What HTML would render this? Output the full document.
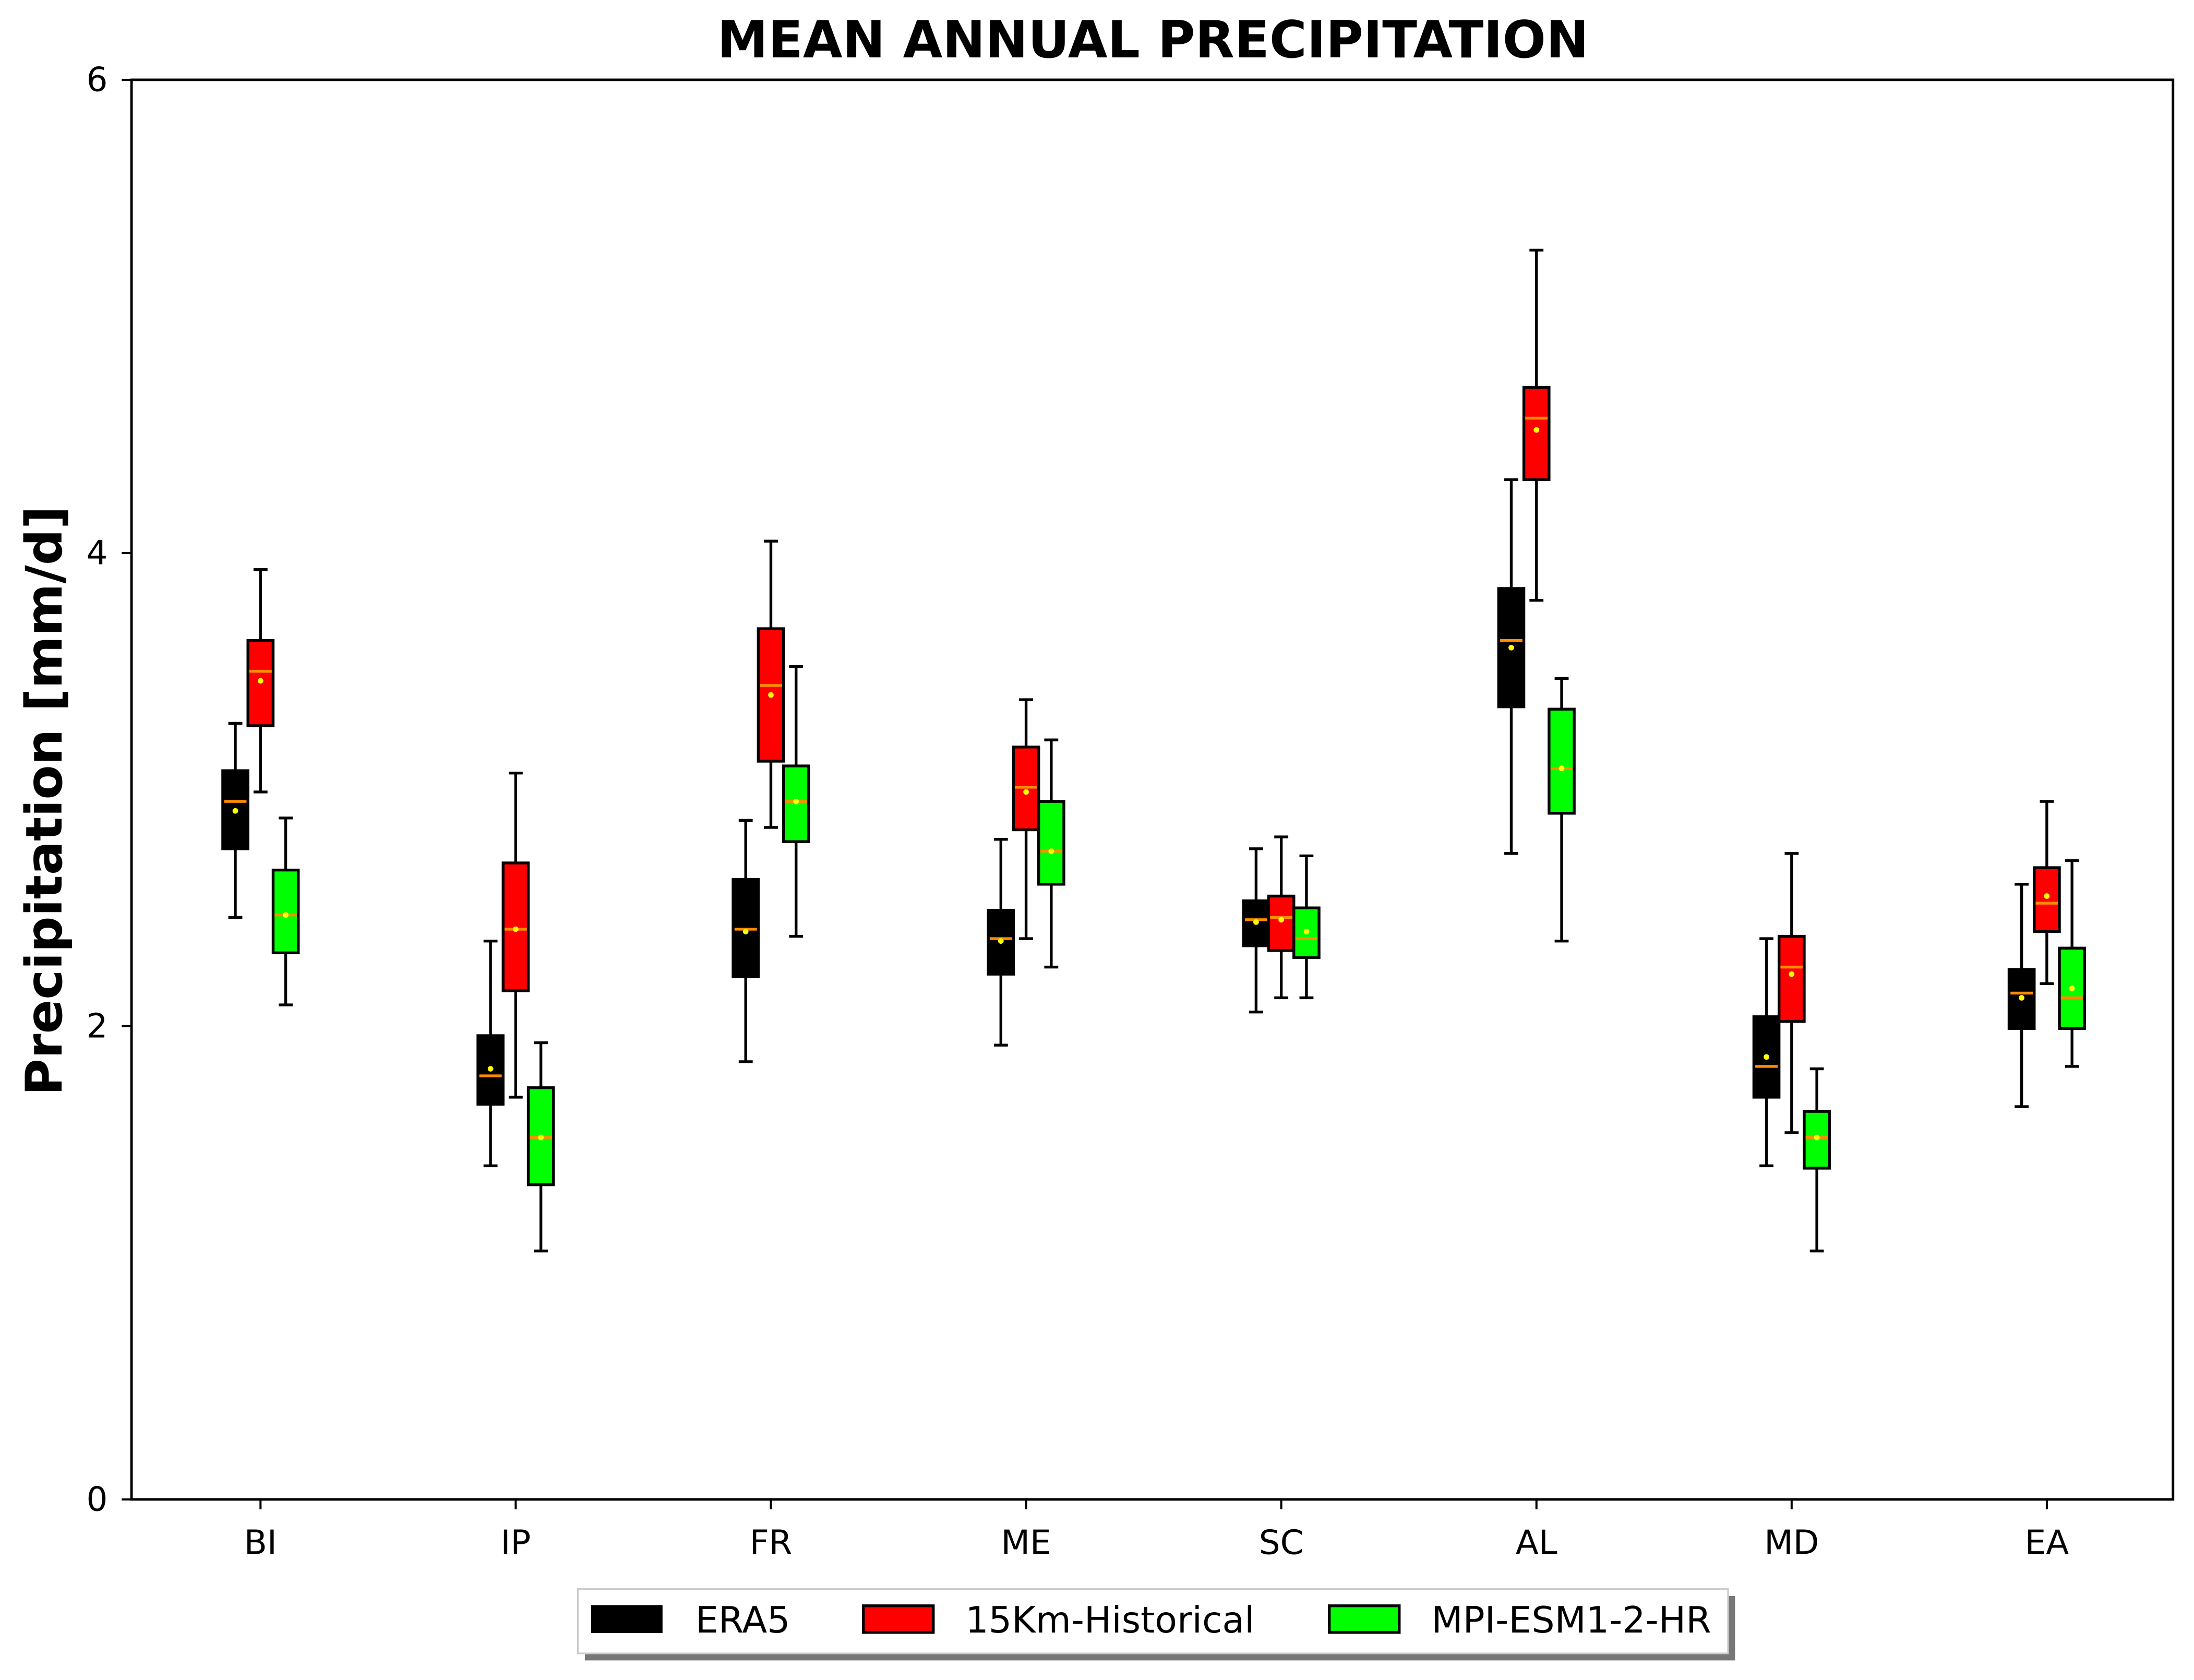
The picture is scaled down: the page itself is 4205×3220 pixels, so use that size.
<!DOCTYPE html>
<html><head><meta charset="utf-8"><style>html,body{margin:0;padding:0;background:#fff}svg{display:block}</style></head>
<body>
<svg id="chart" width="4205" height="3220" viewBox="0 0 1568 1200" preserveAspectRatio="none" xmlns="http://www.w3.org/2000/svg" font-family="'DejaVu Sans','Liberation Sans',sans-serif">
<rect width="1568" height="1200" fill="#fff"/>
<text x="824" y="41" text-anchor="middle" font-size="36.5" font-weight="bold">MEAN ANNUAL PRECIPITATION</text>
<text transform="translate(44,572) rotate(-90)" text-anchor="middle" font-size="36" font-weight="bold">Precipitation [mm/d]</text>
<g id="marks"></g>
<rect x="94" y="57" width="1459" height="1014" fill="none" stroke="#000" stroke-width="1.8"/>
<g>
<rect x="418" y="1140" width="822" height="46" fill="#777"/>
<rect x="413" y="1135" width="822" height="46" fill="#fff" stroke="#ccc" stroke-width="1.2"/>
<rect x="423" y="1147" width="50" height="19" fill="#000" stroke="#000"/>
<text x="497" y="1166" font-size="26">ERA5</text>
<rect x="617" y="1147" width="50" height="19" fill="#f00" stroke="#000" stroke-width="2"/>
<text x="690" y="1166" font-size="26">15Km-Historical</text>
<rect x="950" y="1147" width="50" height="19" fill="#0f0" stroke="#000" stroke-width="2"/>
<text x="1023" y="1166" font-size="26">MPI-ESM1-2-HR</text>
</g>
</svg>
<script>
const categories = ["BI","IP","FR","ME","SC","AL","MD","EA"];
const seriesNames = ["ERA5","15Km-Historical","MPI-ESM1-2-HR"];
const yTicks = [0,2,4,6];
// each entry: [whiskerLow, q1, median, q3, whiskerHigh, mean]
const era5 = [[2.46,2.75,2.95,3.08,3.28,2.91],[1.41,1.67,1.79,1.96,2.36,1.82],[1.85,2.21,2.41,2.62,2.87,2.40],[1.92,2.22,2.37,2.49,2.79,2.36],[2.06,2.34,2.45,2.53,2.75,2.44],[2.73,3.35,3.63,3.85,4.31,3.60],[1.41,1.70,1.83,2.04,2.37,1.87],[1.66,1.99,2.14,2.24,2.60,2.12]];
const hist15 = [[2.99,3.27,3.50,3.63,3.93,3.46],[1.70,2.15,2.41,2.69,3.07,2.41],[2.84,3.12,3.44,3.68,4.05,3.40],[2.37,2.83,3.01,3.18,3.38,2.99],[2.12,2.32,2.46,2.55,2.80,2.45],[3.80,4.31,4.57,4.70,5.28,4.52],[1.55,2.02,2.25,2.38,2.73,2.22],[2.18,2.40,2.52,2.67,2.95,2.55]];
const mpi = [[2.09,2.31,2.47,2.66,2.88,2.47],[1.05,1.33,1.53,1.74,1.93,1.53],[2.38,2.78,2.95,3.10,3.52,2.95],[2.25,2.60,2.74,2.95,3.21,2.74],[2.12,2.29,2.37,2.50,2.72,2.40],[2.36,2.90,3.09,3.34,3.47,3.09],[1.05,1.40,1.53,1.64,1.82,1.53],[1.83,1.99,2.12,2.33,2.70,2.16]];
const series = [era5, hist15, mpi];
const colors = ["#000","#f00","#0f0"];
const slugs = ["era5","15km","mpi"];

const NS="http://www.w3.org/2000/svg";
const svg=document.getElementById('chart');
const g=document.getElementById('marks');
const L=94,R=1553,T=57,B=1071,yMax=6;
function y(v){return B-(v/yMax)*(B-T);}
const step=(R-L)/categories.length;
function xc(i){return L+step*(i+0.5)+1;}
function mk(tag,attrs,parent){const e=document.createElementNS(NS,tag);for(const k in attrs)e.setAttribute(k,attrs[k]);(parent||g).appendChild(e);return e;}

yTicks.forEach(t=>{
  const tk=mk('line',{x1:L-7,x2:L,y1:y(t),y2:y(t),stroke:'#000','stroke-width':1.5},svg);
  
  
  const tx=mk('text',{x:L-17,y:y(t)+8,'text-anchor':'end','font-size':24},svg);
  tx.textContent=t;
  
  
});
categories.forEach((c,i)=>{
  const x=xc(i);
  const tk=mk('line',{x1:x,x2:x,y1:B,y2:B+7,stroke:'#000','stroke-width':1.5},svg);
  
  
  const tx=mk('text',{x:x,y:B+39,'text-anchor':'middle','font-size':24},svg);
  tx.textContent=c;
  
  
});
const bw=18;
series.forEach((s,si)=>{
  s.forEach((d,i)=>{
    const cx=xc(i)+(si-1)*bw;
    const grp=mk('g',{});
    
    
    const sw={stroke:'#000','stroke-width':2};
    mk('line',Object.assign({x1:cx,x2:cx,y1:y(d[0]),y2:y(d[1])},sw),grp);
    mk('line',Object.assign({x1:cx,x2:cx,y1:y(d[3]),y2:y(d[4])},sw),grp);
    mk('line',Object.assign({x1:cx-5,x2:cx+5,y1:y(d[0]),y2:y(d[0])},sw),grp);
    mk('line',Object.assign({x1:cx-5,x2:cx+5,y1:y(d[4]),y2:y(d[4])},sw),grp);
    mk('rect',{x:cx-bw/2,y:y(d[3]),width:bw,height:y(d[1])-y(d[3]),fill:colors[si],stroke:'#000','stroke-width':2},grp);
    mk('line',{x1:cx-bw/2+1,x2:cx+bw/2-1,y1:y(d[2]),y2:y(d[2]),stroke:'#ff8c00','stroke-width':2},grp);
    mk('circle',{cx:cx,cy:y(d[5]),r:2,fill:'#ff0'},grp);
  });
});
</script>
</body></html>
